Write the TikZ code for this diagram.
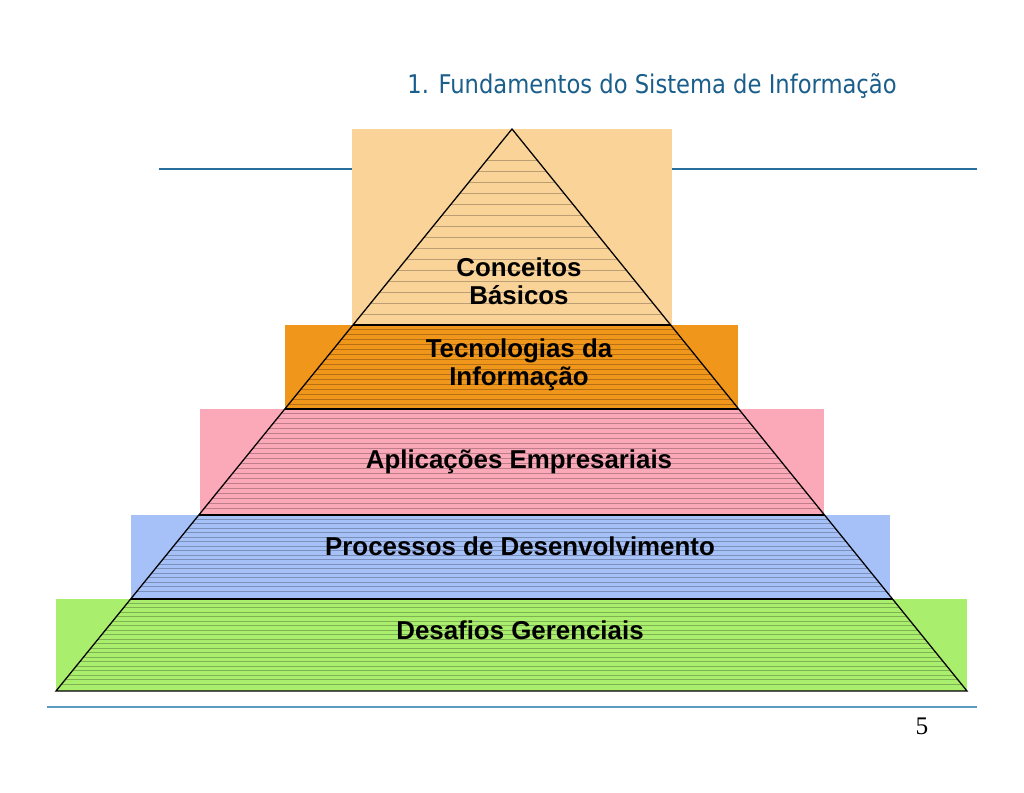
\documentclass[tikz,border=0pt]{standalone}
\usepackage{fontspec}
\setmainfont{Liberation Serif}
\setsansfont{Liberation Sans}
\newfontfamily\titlefont[FakeStretch=0.88]{DejaVu Sans}
\usetikzlibrary{positioning}
\definecolor{titleblue}{RGB}{26,94,140}
\definecolor{ruleblue}{RGB}{40,110,158}
\definecolor{footblue}{RGB}{92,155,192}
\definecolor{concol}{RGB}{250,211,153}
\definecolor{teccol}{RGB}{240,150,26}
\definecolor{aplcol}{RGB}{251,168,184}
\definecolor{procol}{RGB}{166,192,248}
\definecolor{descol}{RGB}{170,238,110}
\tikzset{
	layerlabel/.style={font=\sffamily\bfseries\fontsize{18.4}{20}\selectfont,align=center,inner sep=0pt},
	hatch/.style={line width=0.5pt},
	edge/.style={line width=0.9pt,black},
}
\begin{document}
\begin{tikzpicture}[x=0.025cm,y=-0.025cm]
	\useasboundingbox (0,0) rectangle (1024,792);
	\fill[white] (0,0) rectangle (1024,792);
	% title and rules
	\node[font=\titlefont\fontsize{18.3}{22}\selectfont,text=titleblue,anchor=base] (title) at (652,93) {1. Fundamentos do Sistema de Informação};
	\coordinate (ruleL) at (159,169);
	\coordinate (ruleR) at (977,169);
	\draw[ruleblue,line width=1.2pt] (ruleL) -- (ruleR);
	\coordinate (footL) at (47,707);
	\coordinate (footR) at (977,707);
	\draw[footblue,line width=1pt] (footL) -- (footR);
	\node[font=\fontsize{18}{20}\selectfont,anchor=base] (page) at (922,734) {5};
	% background boxes
	\foreach \xa/\ya/\xb/\yb/\col in {352/129/672/325/concol,285/325/738/409/teccol,200/409/824/515/aplcol,131/515/890/599/procol,56/599/967/691/descol}{
		\fill[\col] (\xa,\ya) rectangle (\xb,\yb);
	}
	% pyramid
	\coordinate (apex) at (512,129);
	\coordinate (baseL) at (56,691);
	\coordinate (baseR) at (967,691);
	\begin{scope}
		\clip (apex) -- (baseR) -- (baseL) -- cycle;
		\foreach \ya/\yb/\gap/\col in {160/320/11/concol,329/405/5/teccol,413/511/5/aplcol,519/595/4.5/procol,603/688/4.5/descol}{
			\pgfmathsetmacro{\ynext}{\ya+\gap}
			\foreach \y in {\ya,\ynext,...,\yb}
				\draw[hatch,\col!75!black] (0,\y) -- (1024,\y);
		}
		\foreach \y in {325,409,515,599}
			\draw[edge] (0,\y) -- (1024,\y);
	\end{scope}
	\draw[edge,line join=miter] (apex) -- (baseR) -- (baseL) -- cycle;
	% labels
	\node[layerlabel] (conc) at (519,281) {Conceitos\\Básicos};
	\node[layerlabel] (tec) at (519,365) {Tecnologias da\\Informação};
	\node[layerlabel] (apl) at (519,462) {Aplicações Empresariais};
	\node[layerlabel] (pro) at (520,546) {Processos de Desenvolvimento};
	\node[layerlabel] (des) at (520,630) {Desafios Gerenciais};
\end{tikzpicture}
\end{document}
